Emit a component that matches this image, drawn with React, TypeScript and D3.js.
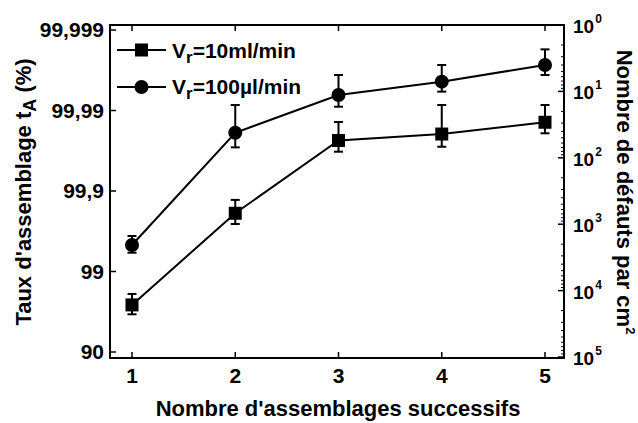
import React from "react";
import * as d3 from "d3";

// Assembly number
const assemblies = [1, 2, 3, 4, 5];
// Series 1: Vr = 10 ml/min (squares) — assembly rate tA (%), with error bounds
const s1Value = [97.4, 99.811, 99.9764, 99.9804, 99.986];
const s1Low = [96.6, 99.743, 99.9675, 99.9718, 99.9808];
const s1High = [98.1, 99.871, 99.9861, 99.99145, 99.99145];
// Series 2: Vr = 100 µl/min (circles)
const s2Value = [99.531, 99.9811, 99.99359, 99.99562, 99.99728];
const s2Low = [99.416, 99.9713, 99.99103, 99.99417, 99.99638];
const s2High = [99.638, 99.99145, 99.99638, 99.99728, 99.99826];

const leftTicks = [90, 99, 99.9, 99.99, 99.999];
const leftTickLabels = ["90", "99", "99,9", "99,99", "99,999"];
const rightTickExp = [0, 1, 2, 3, 4, 5];
const legendLabels = ["=10ml/min", "=100µl/min"];

const W = 638;
const H = 423;
const frame = { left: 110, right: 564, top: 25, bottom: 358 };
const FONT = "'Liberation Sans', Arial, sans-serif";

export default function App() {
  const x = d3.scaleLinear().domain([1, 5]).range([132, 545]);
  // left axis: log of (100 - tA)
  const yLog = d3.scaleLog().domain([10, 0.001]).range([352, 30]);
  const y = (t: number) => yLog(100 - t);
  const yRight = d3.scaleLog().domain([1, 1e5]).range([25, 357]);

  const line = d3
    .line<number>()
    .x((_, i) => x(assemblies[i]))
    .y((d) => y(d));

  const minorRight: number[] = [];
  for (let e = 0; e < 5; e++) {
    for (let m = 2; m <= 9; m++) minorRight.push(m * Math.pow(10, e));
  }

  const errorBars = (vals: number[], lo: number[], hi: number[], key: string) =>
    vals.map((_, i) => {
      const cx = x(assemblies[i]);
      const y1 = y(hi[i]);
      const y2 = y(lo[i]);
      return (
        <g key={key + i} stroke="#000" strokeWidth={2}>
          <line x1={cx} x2={cx} y1={y1} y2={y2} />
          <line x1={cx - 4.5} x2={cx + 4.5} y1={y1} y2={y1} />
          <line x1={cx - 4.5} x2={cx + 4.5} y1={y2} y2={y2} />
        </g>
      );
    });

  return (
    <svg width={W} height={H} style={{ position: "absolute", left: 0, top: 0, background: "#fff" }} fontFamily={FONT} fontWeight="bold">
      <rect x={0} y={0} width={W} height={H} fill="#fff" />
      {/* frame */}
      <rect
        x={frame.left}
        y={frame.top}
        width={frame.right - frame.left}
        height={frame.bottom - frame.top}
        fill="none"
        stroke="#000"
        strokeWidth={2}
      />
      {/* x ticks top and bottom */}
      {assemblies.map((a) => (
        <g key={"xt" + a} stroke="#000" strokeWidth={1.5}>
          <line x1={x(a)} x2={x(a)} y1={frame.bottom} y2={frame.bottom - 6} />
          <line x1={x(a)} x2={x(a)} y1={frame.top} y2={frame.top + 6} />
        </g>
      ))}
      {assemblies.map((a) => (
        <text key={"xl" + a} x={x(a)} y={383} textAnchor="middle" fontSize={21}>
          {a}
        </text>
      ))}
      {/* left ticks */}
      {leftTicks.map((t, i) => (
        <g key={"lt" + i}>
          <line x1={frame.left} x2={frame.left + 6} y1={y(t)} y2={y(t)} stroke="#000" strokeWidth={1.5} />
          <text x={104} y={y(t) + 7} textAnchor="end" fontSize={21}>
            {leftTickLabels[i]}
          </text>
        </g>
      ))}
      {/* right ticks */}
      {minorRight.map((v, i) => (
        <line key={"rm" + i} x1={frame.right} x2={frame.right - 3} y1={yRight(v)} y2={yRight(v)} stroke="#000" strokeWidth={1} />
      ))}
      {rightTickExp.map((e) => (
        <g key={"rt" + e}>
          <line x1={frame.right} x2={frame.right - 6} y1={yRight(Math.pow(10, e))} y2={yRight(Math.pow(10, e))} stroke="#000" strokeWidth={1.5} />
          <text x={573} y={yRight(Math.pow(10, e)) + 8} fontSize={19}>
            10
            <tspan fontSize={12} dy={-10} dx={1}>
              {e}
            </tspan>
          </text>
        </g>
      ))}
      {/* lines */}
      <path d={line(s1Value) || ""} fill="none" stroke="#000" strokeWidth={2} />
      <path d={line(s2Value) || ""} fill="none" stroke="#000" strokeWidth={2} />
      {errorBars(s1Value, s1Low, s1High, "e1")}
      {errorBars(s2Value, s2Low, s2High, "e2")}
      {s1Value.map((v, i) => (
        <rect key={"sq" + i} x={x(assemblies[i]) - 6.5} y={y(v) - 6.5} width={13} height={13} fill="#000" />
      ))}
      {s2Value.map((v, i) => (
        <circle key={"ci" + i} cx={x(assemblies[i])} cy={y(v)} r={7} fill="#000" />
      ))}
      {/* legend */}
      <g>
        <line x1={117} x2={166} y1={50} y2={50} stroke="#000" strokeWidth={2} />
        <rect x={135} y={43.5} width={13} height={13} fill="#000" />
        <text x={172} y={57.5} fontSize={21}>
          V<tspan fontSize={17} dy={5}>r</tspan>
          <tspan dy={-5}>{legendLabels[0]}</tspan>
        </text>
        <line x1={117} x2={166} y1={87} y2={87} stroke="#000" strokeWidth={2} />
        <circle cx={141.5} cy={87} r={7} fill="#000" />
        <text x={172} y={94} fontSize={21}>
          V<tspan fontSize={17} dy={5}>r</tspan>
          <tspan dy={-5}>{legendLabels[1]}</tspan>
        </text>
      </g>
      {/* axis titles */}
      <text x={338} y={416} textAnchor="middle" fontSize={22}>
        Nombre d'assemblages successifs
      </text>
      <text transform="translate(31,192) rotate(-90)" textAnchor="middle" fontSize={22}>
        Taux d'assemblage t<tspan fontSize={18} dy={5}>A</tspan>
        <tspan dy={-5}> (%)</tspan>
      </text>
      <text transform="translate(617,192) rotate(90)" textAnchor="middle" fontSize={22}>
        Nombre de défauts par cm<tspan fontSize={13} dy={-9}>2</tspan>
      </text>
    </svg>
  );
}
